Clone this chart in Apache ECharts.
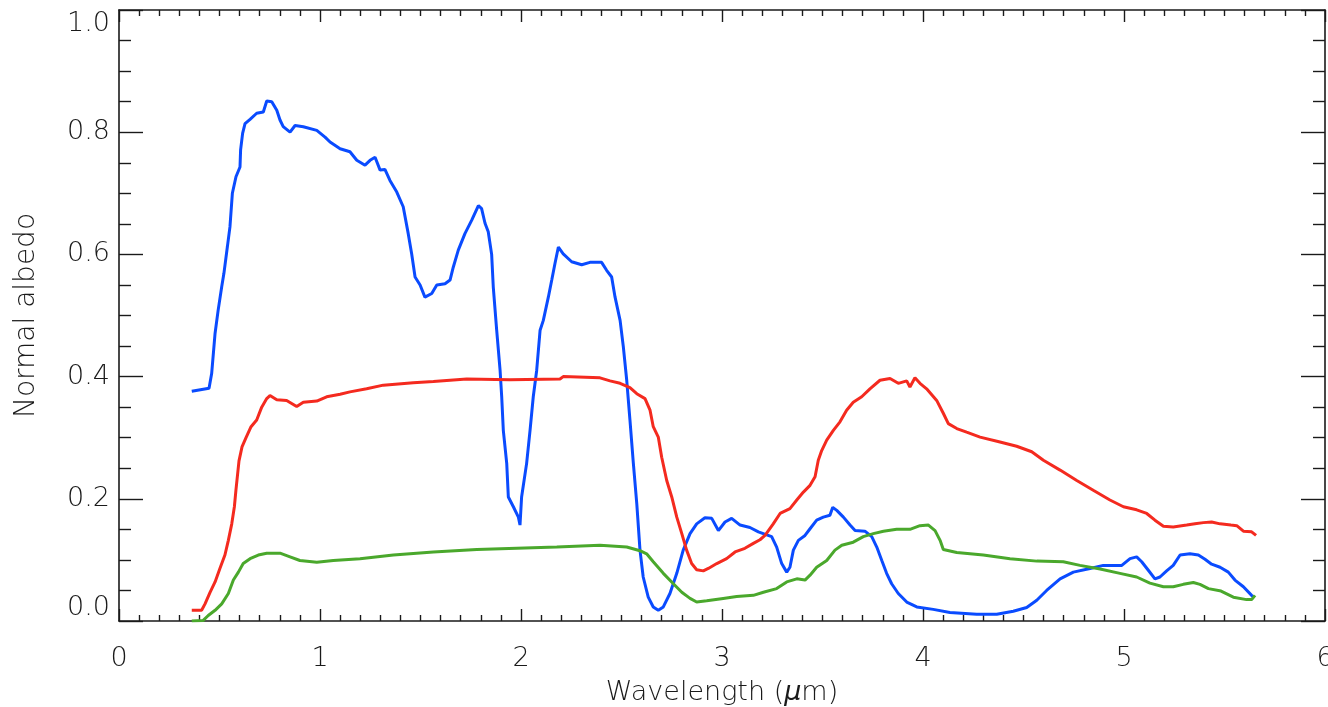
<!DOCTYPE html>
<html>
<head>
<meta charset="utf-8">
<title>Normal albedo spectra</title>
<script src="https://cdn.jsdelivr.net/npm/echarts@6/dist/echarts.min.js"></script>
<style>
  html, body { margin: 0; padding: 0; background: #ffffff; }
  #chart { width: 1328px; height: 707px; }
</style>
</head>
<body>
<div id="chart"></div>
<script>
// Wavelength (µm) and normal albedo samples for the three spectra
const blueWavelength = [0.362,0.448,0.461,0.478,0.493,0.511,0.522,0.539,0.552,0.564,0.582,0.602,0.605,0.615,0.627,0.652,0.685,0.718,0.735,0.760,0.785,0.801,0.817,0.851,0.876,0.917,0.984,1.025,1.050,1.100,1.149,1.183,1.224,1.249,1.274,1.299,1.323,1.348,1.382,1.414,1.439,1.456,1.473,1.498,1.522,1.556,1.581,1.622,1.647,1.663,1.688,1.721,1.755,1.788,1.804,1.821,1.837,1.854,1.862,1.879,1.896,1.904,1.912,1.929,1.937,1.962,1.987,1.995,2.003,2.028,2.045,2.061,2.078,2.095,2.111,2.136,2.153,2.169,2.186,2.210,2.252,2.302,2.343,2.401,2.426,2.451,2.468,2.493,2.509,2.526,2.542,2.559,2.576,2.592,2.608,2.633,2.658,2.683,2.708,2.741,2.775,2.807,2.841,2.874,2.915,2.949,2.982,3.015,3.048,3.090,3.139,3.181,3.247,3.272,3.297,3.322,3.338,3.355,3.380,3.413,3.438,3.471,3.504,3.537,3.551,3.571,3.604,3.637,3.662,3.711,3.745,3.770,3.795,3.819,3.844,3.877,3.919,3.969,4.051,4.134,4.267,4.367,4.449,4.516,4.566,4.615,4.682,4.748,4.831,4.897,4.989,5.030,5.063,5.088,5.121,5.154,5.179,5.212,5.245,5.279,5.328,5.370,5.403,5.436,5.478,5.519,5.552,5.594,5.635,5.647];
const blueAlbedo = [0.376,0.381,0.405,0.471,0.508,0.547,0.569,0.612,0.645,0.700,0.727,0.743,0.771,0.798,0.814,0.821,0.831,0.833,0.851,0.850,0.836,0.820,0.809,0.800,0.811,0.809,0.803,0.792,0.784,0.773,0.768,0.754,0.746,0.754,0.759,0.738,0.739,0.721,0.702,0.678,0.634,0.601,0.563,0.550,0.530,0.536,0.550,0.552,0.558,0.579,0.607,0.634,0.656,0.680,0.675,0.651,0.637,0.600,0.547,0.476,0.410,0.367,0.312,0.258,0.203,0.187,0.170,0.157,0.203,0.258,0.312,0.367,0.410,0.476,0.492,0.530,0.558,0.585,0.612,0.601,0.588,0.583,0.587,0.587,0.574,0.563,0.530,0.492,0.449,0.394,0.329,0.258,0.192,0.116,0.072,0.039,0.023,0.0175,0.023,0.045,0.078,0.116,0.143,0.159,0.169,0.168,0.148,0.162,0.168,0.157,0.153,0.146,0.138,0.121,0.094,0.080,0.088,0.116,0.132,0.140,0.151,0.165,0.170,0.173,0.186,0.181,0.170,0.157,0.148,0.147,0.138,0.121,0.099,0.078,0.061,0.045,0.031,0.023,0.019,0.014,0.011,0.011,0.016,0.022,0.034,0.050,0.069,0.080,0.086,0.091,0.091,0.102,0.105,0.097,0.083,0.069,0.072,0.082,0.091,0.108,0.110,0.108,0.101,0.093,0.088,0.080,0.067,0.056,0.042,0.038];

const redWavelength = [0.362,0.411,0.428,0.453,0.478,0.502,0.527,0.544,0.561,0.574,0.582,0.597,0.612,0.632,0.657,0.685,0.710,0.735,0.751,0.785,0.834,0.884,0.917,0.984,1.033,1.100,1.149,1.232,1.315,1.464,1.564,1.730,1.945,2.194,2.210,2.393,2.443,2.493,2.542,2.576,2.617,2.642,2.658,2.683,2.700,2.725,2.750,2.775,2.800,2.824,2.849,2.874,2.907,2.932,2.974,3.023,3.065,3.114,3.156,3.189,3.214,3.255,3.289,3.338,3.372,3.405,3.438,3.463,3.479,3.496,3.521,3.554,3.587,3.620,3.653,3.695,3.736,3.786,3.836,3.877,3.919,3.935,3.960,3.985,4.018,4.068,4.101,4.126,4.168,4.217,4.284,4.383,4.466,4.541,4.599,4.682,4.765,4.847,4.930,4.997,5.063,5.113,5.154,5.196,5.245,5.312,5.353,5.395,5.436,5.478,5.532,5.561,5.594,5.635,5.657];
const redAlbedo = [0.0175,0.0175,0.028,0.047,0.064,0.086,0.108,0.132,0.159,0.187,0.215,0.262,0.285,0.300,0.318,0.329,0.350,0.364,0.369,0.362,0.361,0.351,0.358,0.360,0.367,0.371,0.375,0.380,0.386,0.390,0.392,0.396,0.395,0.396,0.400,0.398,0.393,0.389,0.382,0.372,0.364,0.345,0.318,0.301,0.268,0.230,0.203,0.170,0.143,0.116,0.094,0.084,0.082,0.086,0.094,0.102,0.113,0.119,0.127,0.133,0.140,0.159,0.176,0.184,0.198,0.211,0.222,0.236,0.263,0.279,0.296,0.312,0.326,0.345,0.358,0.367,0.380,0.394,0.397,0.389,0.393,0.383,0.398,0.389,0.380,0.361,0.340,0.323,0.315,0.309,0.301,0.293,0.286,0.277,0.263,0.247,0.230,0.214,0.198,0.187,0.182,0.176,0.165,0.155,0.154,0.157,0.159,0.161,0.162,0.159,0.157,0.156,0.147,0.146,0.140];

const greenWavelength = [0.362,0.419,0.444,0.478,0.511,0.544,0.569,0.594,0.618,0.652,0.693,0.735,0.801,0.851,0.900,0.984,1.066,1.199,1.365,1.564,1.780,2.178,2.393,2.526,2.592,2.625,2.658,2.708,2.758,2.800,2.841,2.874,2.924,3.006,3.073,3.156,3.206,3.272,3.322,3.372,3.413,3.438,3.471,3.521,3.562,3.596,3.653,3.703,3.753,3.803,3.869,3.935,3.985,4.027,4.060,4.085,4.101,4.168,4.300,4.433,4.566,4.698,4.781,4.881,4.980,5.063,5.129,5.196,5.245,5.295,5.345,5.378,5.420,5.483,5.544,5.610,5.635,5.652];
const greenAlbedo = [0.000,0.001,0.009,0.0175,0.028,0.045,0.067,0.080,0.094,0.102,0.108,0.111,0.111,0.105,0.099,0.096,0.099,0.102,0.108,0.113,0.117,0.121,0.124,0.121,0.115,0.110,0.097,0.078,0.061,0.047,0.037,0.031,0.033,0.037,0.040,0.042,0.047,0.053,0.064,0.069,0.067,0.075,0.088,0.099,0.116,0.124,0.129,0.138,0.143,0.147,0.150,0.150,0.156,0.157,0.148,0.132,0.117,0.112,0.108,0.102,0.098,0.097,0.091,0.085,0.078,0.072,0.062,0.056,0.056,0.060,0.063,0.060,0.053,0.049,0.039,0.035,0.035,0.042];

// Axis tick values
const xTicks = [0, 1, 2, 3, 4, 5, 6];
const yTicks = [0.0, 0.2, 0.4, 0.6, 0.8, 1.0];

const pairs = (xs, ys) => xs.map((x, i) => [x, ys[i]]);

const ink = '#1a1a1a';
const labelFont = { fontFamily: 'DejaVu Sans', fontWeight: 200, fontSize: 27, color: ink };

function xAxisCfg(pos, showLabel) {
  return {
    type: 'value', position: pos,
    min: xTicks[0], max: xTicks[xTicks.length - 1], interval: 1,
    axisLine: { show: true, onZero: false, lineStyle: { color: ink, width: 1.6 } },
    axisTick: { show: true, inside: true, length: 12, lineStyle: { color: ink, width: 1.4 } },
    minorTick: { show: true, splitNumber: 10, length: 6, lineStyle: { color: ink, width: 1.4 } },
    splitLine: { show: false },
    axisLabel: Object.assign({ show: showLabel, margin: 24, formatter: v => String(v) }, labelFont)
  };
}

function yAxisCfg(pos, showLabel) {
  return {
    type: 'value', position: pos,
    min: yTicks[0], max: yTicks[yTicks.length - 1], interval: 0.2,
    axisLine: { show: true, onZero: false, lineStyle: { color: ink, width: 1.6 } },
    axisTick: { show: true, inside: true, length: 24, lineStyle: { color: ink, width: 1.4 } },
    minorTick: { show: true, splitNumber: 4, length: 12, lineStyle: { color: ink, width: 1.4 } },
    splitLine: { show: false },
    axisLabel: Object.assign({
      show: showLabel, margin: 9, formatter: v => v.toFixed(1),
      verticalAlignMinLabel: 'bottom', verticalAlignMaxLabel: 'top'
    }, labelFont)
  };
}

const bottomX = xAxisCfg('bottom', true);
bottomX.name = 'Wavelength ({mu|μ}m)';
bottomX.nameLocation = 'middle';
bottomX.nameGap = 58;
bottomX.nameTextStyle = Object.assign({}, labelFont, {
  rich: { mu: Object.assign({}, labelFont, { fontStyle: 'italic' }) }
});

const leftY = yAxisCfg('left', true);
leftY.name = 'Normal albedo';
leftY.nameLocation = 'middle';
leftY.nameGap = 78;
leftY.nameTextStyle = Object.assign({}, labelFont, { fontSize: 28 });

const lineSeries = (data, color) => ({
  type: 'line', data, xAxisIndex: 0, yAxisIndex: 0,
  showSymbol: false, symbol: 'none', smooth: false, animation: false,
  lineStyle: { color, width: 3 }, z: 3
});

const chart = echarts.init(document.getElementById('chart'), null, { renderer: 'canvas' });
chart.setOption({
  backgroundColor: '#ffffff',
  animation: false,
  grid: { left: 119, right: 3, top: 10, bottom: 86, containLabel: false, outerBoundsMode: 'none' },
  xAxis: [bottomX, xAxisCfg('top', false)],
  yAxis: [leftY, yAxisCfg('right', false)],
  series: [
    lineSeries(pairs(blueWavelength, blueAlbedo), '#0a4bff'),
    lineSeries(pairs(redWavelength, redAlbedo), '#f42a1f'),
    lineSeries(pairs(greenWavelength, greenAlbedo), '#4aa82c')
  ]
});
</script>
</body>
</html>
